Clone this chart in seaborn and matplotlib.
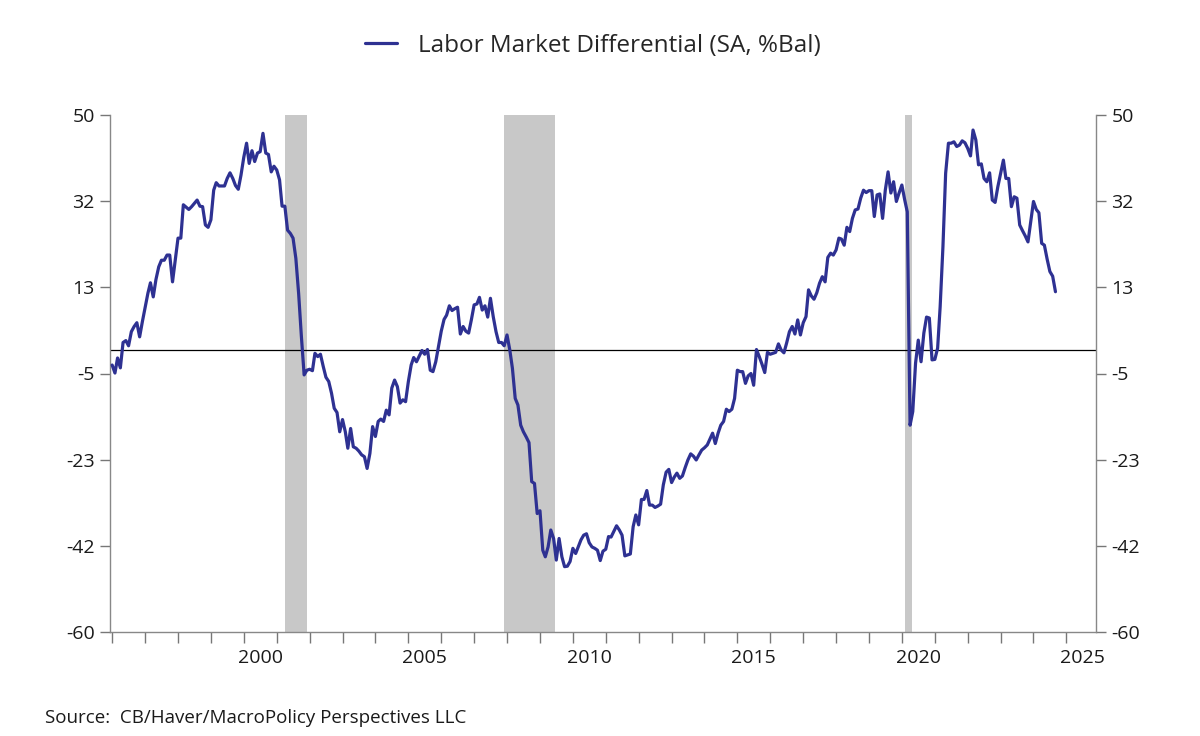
import numpy as np
import pandas as pd
import seaborn as sns
import matplotlib.pyplot as plt
import matplotlib.dates as mdates
from matplotlib.ticker import NullFormatter

# monthly values, Jan 1996 - Sep 2024
y1996 = [-3.2, -4.9, -1.7, -3.8, 1.6, 2.0, 0.9, 3.9, 5.0, 5.8, 2.8, 6.0]
y1997 = [9.0, 12.1, 14.3, 11.3, 15.0, 17.7, 19.1, 19.1, 20.2, 20.2, 14.5, 19.0]
y1998 = [23.8, 23.8, 30.9, 30.4, 29.9, 30.5, 31.2, 31.9, 30.6, 30.5, 26.6, 26.1]
y1999 = [27.7, 34.0, 35.6, 34.9, 34.9, 34.9, 36.5, 37.7, 36.5, 35.0, 34.2, 37.2]
y2000 = [41.0, 44.0, 39.7, 42.4, 40.1, 41.9, 42.2, 46.1, 41.9, 41.6, 37.9, 39.1]
y2001 = [38.3, 36.2, 30.6, 30.6, 25.5, 24.8, 23.8, 19.5, 12.0, 3.0, -5.3, -4.3]
y2002 = [-4.1, -4.4, -0.7, -1.4, -0.9, -3.5, -5.8, -6.7, -9.2, -12.4, -13.3, -17.4]
y2003 = [-14.8, -17.4, -20.9, -16.7, -20.6, -20.9, -21.5, -22.3, -22.7, -25.2, -22.0, -16.3]
y2004 = [-18.4, -15.2, -14.7, -15.2, -12.8, -13.8, -8.1, -6.4, -7.8, -11.3, -10.6, -11.0]
y2005 = [-6.7, -3.2, -1.6, -2.5, -1.3, -0.1, -0.9, 0.1, -4.3, -4.6, -2.5, 0.7]
y2006 = [4.0, 6.5, 7.4, 9.4, 8.4, 8.8, 9.1, 3.4, 5.0, 4.0, 3.6, 6.4]
y2007 = [9.6, 9.8, 11.2, 8.5, 9.4, 7.0, 11.0, 7.1, 3.9, 1.6, 1.6, 0.9]
y2008 = [3.2, 0.0, -3.9, -10.3, -11.7, -16.0, -17.4, -18.5, -19.7, -28.0, -28.4, -34.8]
y2009 = [-34.2, -42.6, -44.0, -41.9, -38.3, -40.1, -44.7, -40.1, -44.0, -46.1, -46.0, -45.0]
y2010 = [-42.2, -43.3, -41.9, -40.4, -39.4, -39.1, -41.0, -41.9, -42.2, -42.6, -44.8, -42.8]
y2011 = [-42.4, -39.7, -39.8, -38.6, -37.4, -38.3, -39.4, -43.8, -43.6, -43.4, -37.6, -35.1]
y2012 = [-37.2, -31.8, -31.8, -29.9, -33.0, -33.0, -33.5, -33.2, -32.8, -28.7, -26.0, -25.4]
y2013 = [-28.2, -27.0, -26.2, -27.3, -26.8, -25.0, -23.4, -22.1, -22.6, -23.4, -22.3, -21.3]
y2014 = [-20.8, -20.2, -19.0, -17.7, -19.9, -17.7, -16.0, -15.2, -12.6, -13.1, -12.6, -10.3]
y2015 = [-4.3, -4.6, -4.6, -7.1, -5.5, -5.0, -7.5, 0.1, -1.4, -3.0, -4.8, -0.5]
y2016 = [-0.9, -0.7, -0.5, 1.3, 0.0, -0.6, 1.5, 3.9, 5.0, 3.4, 6.4, 3.2]
y2017 = [5.8, 7.1, 12.8, 11.5, 10.8, 12.2, 14.2, 15.6, 14.5, 19.7, 20.6, 20.2]
y2018 = [21.3, 23.8, 23.6, 22.3, 26.1, 25.2, 28.0, 29.8, 30.0, 32.3, 34.0, 33.5]
y2019 = [33.9, 33.9, 28.4, 33.0, 33.2, 28.0, 34.0, 37.9, 33.4, 35.8, 31.6, 33.4]
y2020 = [35.1, 32.0, 29.4, -16.0, -13.1, -2.8, 2.1, -2.5, 3.6, 7.0, 6.8, -2.1]
y2021 = [-2.0, 0.4, 9.2, 22.0, 37.6, 44.0, 44.0, 44.3, 43.3, 43.6, 44.5, 44.1]
y2022 = [42.9, 41.3, 46.8, 44.7, 39.4, 39.6, 36.5, 35.8, 37.7, 31.9, 31.4, 34.7]
y2023 = [37.5, 40.4, 36.5, 36.5, 30.5, 32.6, 32.3, 26.6, 25.4, 24.3, 23.0, 27.3]
y2024 = [31.6, 29.9, 29.2, 22.7, 22.3, 19.3, 16.7, 15.7, 12.4]

values = (y1996 + y1997 + y1998 + y1999 + y2000 + y2001 + y2002 + y2003 + y2004
          + y2005 + y2006 + y2007 + y2008 + y2009 + y2010 + y2011 + y2012 + y2013
          + y2014 + y2015 + y2016 + y2017 + y2018 + y2019 + y2020 + y2021 + y2022
          + y2023 + y2024)

recessions = [("2001-04-01", "2001-11-30"),
              ("2007-12-01", "2009-06-15"),
              ("2020-02-10", "2020-04-20")]

label_years = [2000, 2005, 2010, 2015, 2020, 2025]
series_name = "Labor Market Differential (SA, %Bal)"

df = pd.DataFrame({"date": pd.date_range("1996-01-01", periods=len(values), freq="MS"),
                   "value": values})

sns.set_style("ticks")
plt.rcParams["font.family"] = ["Open Sans", "DejaVu Sans"]

fig = plt.figure(figsize=(12, 7.36), dpi=100)
ax = fig.add_axes([110 / 1200, 1 - 632 / 736, 986 / 1200, 517 / 736])

for start, end in recessions:
    ax.axvspan(pd.Timestamp(start), pd.Timestamp(end), color="#c8c8c8", lw=0, zorder=0)

ax.axhline(0, color="black", lw=0.9, zorder=1)
sns.lineplot(data=df, x="date", y="value", color="#2e3192", lw=2.3,
             label=series_name, ax=ax, zorder=3)

ax.set_xlim(pd.Timestamp("1995-12-08"), pd.Timestamp("2025-11-25"))
ax.set_ylim(-60, 50)
yt = np.linspace(-60, 50, 7)
ax.set_yticks(yt)
ax.set_yticklabels([str(int(round(v))) for v in yt])

# yearly tick marks, labels centred mid-year every 5 years
ax.xaxis.set_major_locator(mdates.YearLocator(1))
ax.xaxis.set_major_formatter(NullFormatter())
ax.set_xticks([pd.Timestamp(f"{y}-07-01") for y in label_years], minor=True)
ax.set_xticklabels([str(y) for y in label_years], minor=True)
ax.tick_params(axis="x", which="major", length=8, width=1, color="#777777", direction="out")
ax.tick_params(axis="x", which="minor", length=0, pad=12, labelsize=14, labelcolor="#1a1a1a")
ax.tick_params(axis="y", which="major", left=True, right=True, labelleft=True,
               labelright=True, length=7, width=1, color="#777777", pad=4,
               labelsize=14, labelcolor="#1a1a1a")

for side in ["left", "right", "bottom"]:
    ax.spines[side].set_color("#888888")
    ax.spines[side].set_linewidth(1)
ax.spines["top"].set_visible(False)

ax.set_xlabel("")
ax.set_ylabel("")

handles, labels = ax.get_legend_handles_labels()
ax.get_legend().remove()
fig.legend(handles, labels, loc="center", bbox_to_anchor=(593 / 1200, 1 - 46 / 736),
           frameon=False, fontsize=17.5, handlelength=1.32, handletextpad=0.86)

fig.text(45 / 1200, 1 - 718 / 736, "Source:  CB/Haver/MacroPolicy Perspectives LLC",
         fontsize=13.5, color="#1a1a1a", va="center", ha="left")

fig.savefig("out.png", dpi=100)
